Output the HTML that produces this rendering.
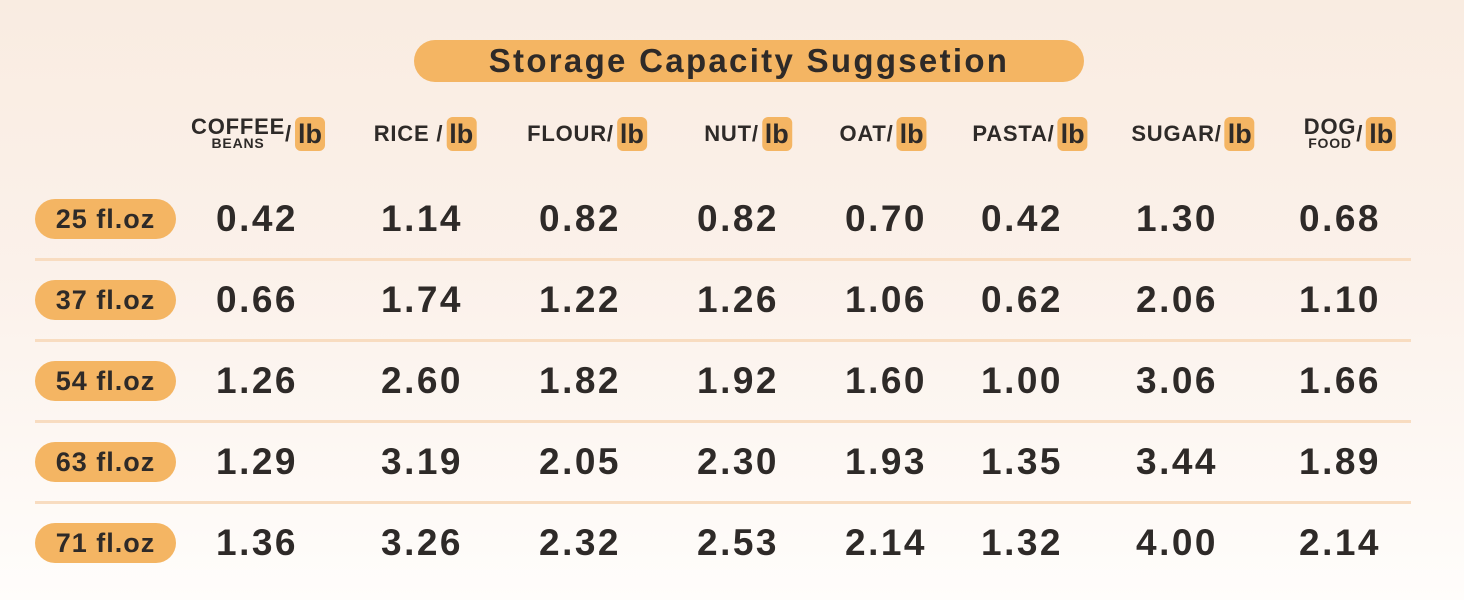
<!DOCTYPE html>
<html><head><meta charset="utf-8">
<style>
html,body{margin:0;padding:0}
body{width:1464px;height:600px;position:relative;overflow:hidden;background:linear-gradient(180deg,#f9ece1 0%,#fbf1ea 45%,#fffdfb 100%);font-family:"Liberation Sans",sans-serif;color:#2e2a28}
.abs{position:absolute}
.title{left:414px;top:40px;width:670px;height:42px;border-radius:21px;background:#f4b563;text-align:center;line-height:42px;font-weight:bold;font-size:33px;letter-spacing:2.3px}
.hdr{top:112px;height:44px;transform:translateX(-50%);white-space:nowrap;font-weight:bold;font-size:22px;letter-spacing:0.8px;display:flex;align-items:center}
.lb{display:inline-block;background:#f4b563;border-radius:6px;padding:0 3px;font-size:27px;line-height:34px;margin-left:3px;letter-spacing:0}
.stack{display:inline-flex;flex-direction:column;align-items:center;line-height:18px}
.stack .s{font-size:14px;line-height:14px}
.rl{left:35px;width:141px;height:40px;border-radius:20px;background:#f4b563;text-align:center;line-height:40px;font-weight:bold;font-size:27px;letter-spacing:1px}
.val{transform:translateX(-50%);font-weight:bold;font-size:37px;letter-spacing:2.5px;height:40px;line-height:40px}
.div{left:35px;width:1376px;height:3px;background:#f8dcc0}
</style></head><body>
<div class="abs title">Storage Capacity Suggsetion</div>
<div id="tbl"></div>
<script>
const categories=["COFFEE|BEANS","RICE /","FLOUR/","NUT/","OAT/","PASTA/","SUGAR/","DOG|FOOD"];
const sizes=["25 fl.oz","37 fl.oz","54 fl.oz","63 fl.oz","71 fl.oz"];
const row25=["0.42","1.14","0.82","0.82","0.70","0.42","1.30","0.68"];
const row37=["0.66","1.74","1.22","1.26","1.06","0.62","2.06","1.10"];
const row54=["1.26","2.60","1.82","1.92","1.60","1.00","3.06","1.66"];
const row63=["1.29","3.19","2.05","2.30","1.93","1.35","3.44","1.89"];
const row71=["1.36","3.26","2.32","2.53","2.14","1.32","4.00","2.14"];
const rows=[row25,row37,row54,row63,row71];
const colX=[257,422,580,738,886,1022,1177,1340];
const hdrX=[258,425,587,748,883,1030,1193,1350];
const rowY=[219,300,381,462,543];
const t=document.getElementById('tbl');
categories.forEach((c,i)=>{
  const d=document.createElement('div');
  d.className='abs hdr';
  
  
  d.style.left=hdrX[i]+'px';
  const p=c.split('|');
  if(p.length>1){d.innerHTML='<span class="stack"><span>'+p[0]+'</span><span class="s">'+p[1]+'</span></span>/<span class="lb">lb</span>';}
  else{d.innerHTML='<span>'+p[0]+'</span><span class="lb">lb</span>';}
  t.appendChild(d);
});
sizes.forEach((s,r)=>{
  const l=document.createElement('div');
  l.className='abs rl';
  
  
  l.style.top=(rowY[r]-20)+'px';
  l.textContent=s;
  t.appendChild(l);
  rows[r].forEach((v,i)=>{
    const e=document.createElement('div');
    e.className='abs val';
    
    
    e.style.left=colX[i]+'px';
    e.style.top=(rowY[r]-20)+'px';
    e.textContent=v;
    t.appendChild(e);
  });
  if(r<sizes.length-1){
    const dv=document.createElement('div');
    dv.className='abs div';
    
    
    dv.style.top=(rowY[r]+39)+'px';
    t.appendChild(dv);
  }
});
</script>
</body></html>
